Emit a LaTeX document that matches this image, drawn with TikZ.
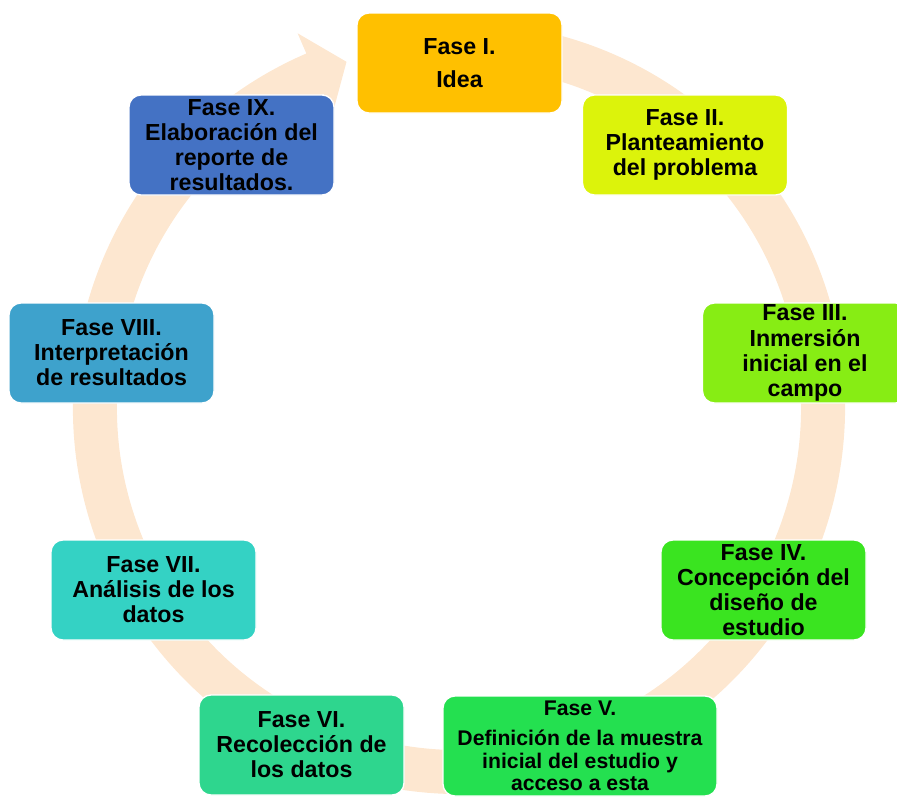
\documentclass[tikz,border=0pt]{standalone}
\usepackage{fontspec}
\setmainfont{Liberation Sans}

\definecolor{ringpeach}{RGB}{253,231,208}
\definecolor{faseI}{RGB}{255,192,0}
\definecolor{faseII}{RGB}{220,243,11}
\definecolor{faseIII}{RGB}{135,237,20}
\definecolor{faseIV}{RGB}{58,228,32}
\definecolor{faseV}{RGB}{36,224,80}
\definecolor{faseVI}{RGB}{46,214,142}
\definecolor{faseVII}{RGB}{52,210,196}
\definecolor{faseVIII}{RGB}{62,162,204}
\definecolor{faseIX}{RGB}{68,114,196}

\tikzset{fase/.style={draw=white, line width=1pt, rounded corners=9pt,
    minimum width=153.75pt, minimum height=75pt, inner sep=0pt, align=center,
    font=\fontsize{17.4}{18.8}\selectfont\bfseries}}

\begin{document}
\begin{tikzpicture}[x=0.75pt,y=0.75pt,yscale=-1,xscale=1]
        \useasboundingbox (0,0) rectangle (897,797);

        %Shape: Circular Arrow
        \begin{scope}[shift={(459,408)}]
        \fill[ringpeach] (-78:386) arc[start angle=-78, end angle=246.7, radius=386]
            -- (246.7:408) -- (252:364) -- (246.7:320) -- (246.7:342)
            arc[start angle=246.7, end angle=-78, radius=342] -- cycle;
        \end{scope}

        %Shape: Rounded Rect
        \node[fase, fill=faseI] (idea) at (459.5,63) {Fase I.\\[6pt]Idea};
        %Shape: Rounded Rect
        \node[fase, fill=faseII] (planteamiento) at (685,145) {Fase II.\\Planteamiento\\del problema};
        %Shape: Rounded Rect
        \node[fase, fill=faseIII] (inmersion) at (805,353) {Fase III.\\Inmersión\\inicial en el\\campo};
        %Shape: Rounded Rect
        \node[fase, fill=faseIV] (concepcion) at (763.5,590) {Fase IV.\\Concepción del\\diseño de\\estudio};
        %Shape: Rounded Rect
        \node[fase, fill=faseV, minimum width=205.5pt, font=\fontsize{15.9}{16.9}\selectfont\bfseries] (muestra) at (580,746) {Fase V.\\[5.5pt]Definición de la muestra\\inicial del estudio y\\acceso a esta};
        %Shape: Rounded Rect
        \node[fase, fill=faseVI] (recoleccion) at (301.5,745) {Fase VI.\\Recolección de\\los datos};
        %Shape: Rounded Rect
        \node[fase, fill=faseVII] (analisis) at (153.5,590) {Fase VII.\\Análisis de los\\datos};
        %Shape: Rounded Rect
        \node[fase, fill=faseVIII] (interpretacion) at (111.5,353) {Fase VIII.\\Interpretación\\de resultados};
        %Shape: Rounded Rect
        \node[fase, fill=faseIX] (reporte) at (231.5,145) {Fase IX.\\Elaboración del\\reporte de\\resultados.};

\end{tikzpicture}
\end{document}
